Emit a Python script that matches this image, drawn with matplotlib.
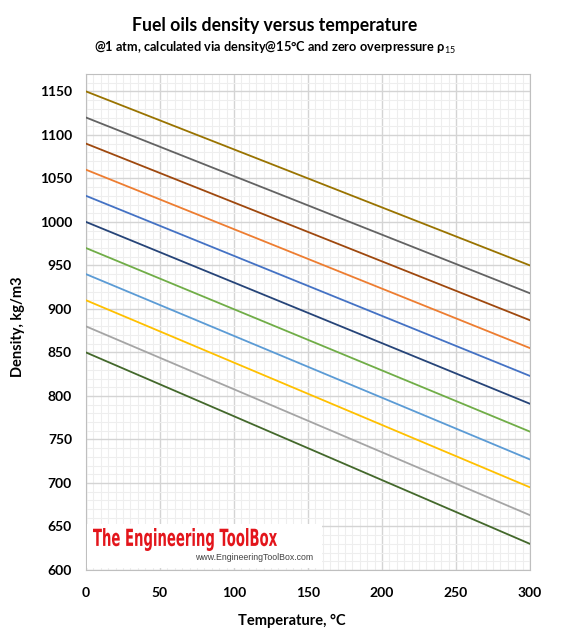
import numpy as np
import matplotlib
matplotlib.use("Agg")
import matplotlib.pyplot as plt
from matplotlib.ticker import MultipleLocator
from matplotlib.patches import Rectangle, PathPatch
from matplotlib.textpath import TextPath
from matplotlib.font_manager import FontProperties
from matplotlib.transforms import Affine2D

# Density at 0 and 300 degC for each fuel oil curve [kg/m3]
temps = [0, 300]
rho_0 = [850, 880, 910, 940, 970, 1000, 1030, 1060, 1090, 1120, 1150]
rho_300 = [630, 663, 695, 727, 759, 791, 823, 855, 887, 918, 950]
colors = ['#43682B', '#A5A5A5', '#FFC000', '#5B9BD5', '#70AD47', '#264478',
          '#4472C4', '#ED7D31', '#9E480E', '#636363', '#997300']

plt.rcParams['font.family'] = ['Lato', 'DejaVu Sans']
plt.rcParams['mathtext.fontset'] = 'custom'
plt.rcParams['mathtext.rm'] = 'Lato'

W, H = 562, 640
fig = plt.figure(figsize=(W / 100, H / 100), dpi=100)
ax = fig.add_axes([86 / W, 70 / H, 444 / W, 496 / H])

for r0, r3, c in zip(rho_0, rho_300, colors):
    ax.plot(temps, [r0, r3], color=c, lw=1.3, zorder=3)

ax.set_xlim(0, 300)
ax.set_ylim(600, 1170)
ax.xaxis.set_major_locator(MultipleLocator(50))
ax.xaxis.set_minor_locator(MultipleLocator(5))
ax.yaxis.set_major_locator(MultipleLocator(50))
ax.yaxis.set_minor_locator(MultipleLocator(10))
ax.grid(which='major', color='#D4D4D4', lw=1.0)
ax.grid(which='minor', color='#EEEEEE', lw=0.8)
ax.set_axisbelow(True)
for s in ax.spines.values():
    s.set_color('#BFBFBF')
ax.tick_params(which='both', length=0, labelsize=10)
ax.tick_params(axis='y', pad=10)
ax.tick_params(axis='x', pad=12)
for lab in ax.get_xticklabels() + ax.get_yticklabels():
    lab.set_fontweight('bold')

ax.set_xlabel('Temperature, °C', fontsize=10.5, fontweight='bold')
ax.set_ylabel('Density, kg/m3', fontsize=10.5, fontweight='bold')
ax.xaxis.set_label_coords((292 - 86) / 444, -(614 - 570) / 496)
ax.yaxis.set_label_coords(-(86 - 25) / 444, (570 - 327) / 496)

fig.text(275 / W, 1 - 25 / H, 'Fuel oils density versus temperature', ha='center', va='center',
         fontsize=12.7, fontweight='bold')
fig.text(275 / W, 1 - 47 / H, '@1 atm, calculated via density@15°C and zero overpressure ρ$_{15}$',
         ha='center', va='center', fontsize=9.2, fontweight='bold')

# watermark
ax.add_patch(Rectangle((0.002, 0.004), (322 - 87) / 444, (570 - 524) / 496 - 0.004,
                       transform=ax.transAxes, facecolor='white', edgecolor='none', zorder=4))
tp = TextPath((0, 0), 'The Engineering ToolBox', size=1,
              prop=FontProperties(family='DejaVu Sans', weight='bold'))
ext = tp.get_extents()
sx = (277 - 93) / ext.width
sy = (551 - 528) / ext.height
tr = Affine2D().translate(-ext.x0, -ext.y0).scale(sx, sy).translate(93, H - 551)
fig.patches.append(PathPatch(tr.transform_path(tp), facecolor='#E3151B', edgecolor='none',
                             transform=None, figure=fig, zorder=5))
ax.text((195 - 86) / 444, (570 - 557) / 496, 'www.EngineeringToolBox.com', transform=ax.transAxes,
        color='#444444', fontsize=6.3, family='Liberation Sans', va='center', ha='left', zorder=5)

fig.savefig('out.png', dpi=100)
